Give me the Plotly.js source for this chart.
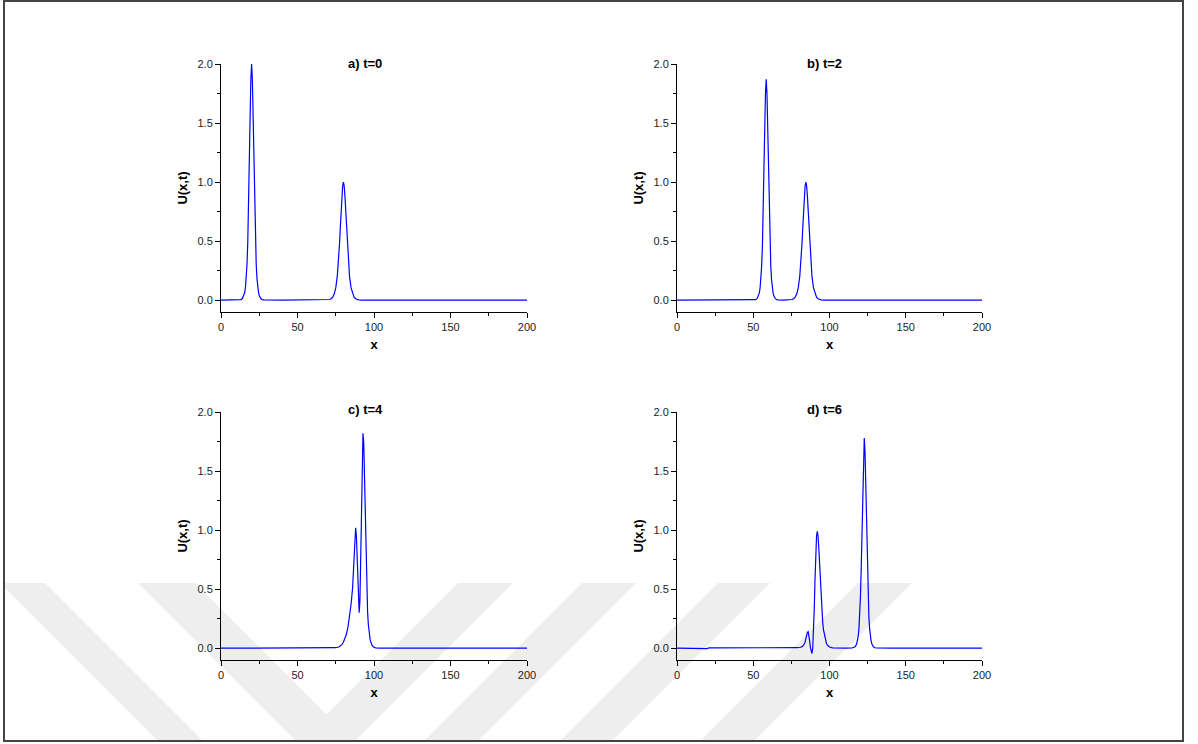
<!DOCTYPE html>
<html>
<head>
<meta charset="utf-8">
<script src="https://cdn.plot.ly/plotly-3.0.1.min.js"></script>
<style>html,body{margin:0;padding:0;background:#fff;}#chart{width:1198px;height:744px;}</style>
</head>
<body>
<div id="chart"></div>
<script>
// ---- data ----
const panelTitles = ["a) t=0", "b) t=2", "c) t=4", "d) t=6"];
const xTickVals = [0, 50, 100, 150, 200];
const yTickVals = [0, 0.5, 1.0, 1.5, 2.0];

const xA = [0, 10, 12, 13, 14, 15, 15.5, 16, 16.5, 17, 17.5, 18, 18.5, 19, 19.5, 20, 20.5, 21, 21.5, 22, 22.5, 23, 23.5, 24, 24.5, 25, 26, 27, 28, 40, 60, 68, 70, 71, 72, 73, 74, 75, 76, 76.5, 77, 77.5, 78, 78.5, 79, 79.5, 80, 80.5, 81, 81.5, 82, 82.5, 83, 83.5, 84, 85, 86, 87, 88, 89, 90, 92, 110, 150, 200];
const uA = [0, 0, 0.002, 0.005, 0.014, 0.040, 0.067, 0.112, 0.187, 0.307, 0.492, 0.765, 1.125, 1.528, 1.866, 2.0, 1.866, 1.528, 1.125, 0.765, 0.492, 0.307, 0.187, 0.112, 0.067, 0.040, 0.014, 0.005, 0.002, 0, 0, 0.0007, 0.003, 0.006, 0.0125, 0.026, 0.052, 0.104, 0.201, 0.276, 0.371, 0.487, 0.619, 0.757, 0.881, 0.968, 1.0, 0.968, 0.881, 0.757, 0.619, 0.487, 0.371, 0.276, 0.201, 0.104, 0.052, 0.026, 0.0125, 0.006, 0.003, 0.0007, 0, 0, 0];

const xB = [0, 18, 19, 19.5, 20, 21, 25, 30, 35, 48, 50.5, 51.5, 52.5, 53.5, 54, 54.5, 55, 55.5, 56, 56.5, 57, 57.5, 58, 58.5, 59, 59.5, 60, 60.5, 61, 61.5, 62, 62.5, 63, 63.5, 64.5, 65.5, 66.5, 70, 72.5, 74.5, 75.5, 76.5, 77.5, 78.5, 79.5, 80.5, 81, 81.5, 82, 82.5, 83, 83.5, 84, 84.5, 85, 85.5, 86, 86.5, 87, 87.5, 88, 88.5, 89.5, 90.5, 91.5, 92.5, 93.5, 94.5, 96.5, 110, 150, 200];
const uB = [0, 0, 0.002, 0.006, 0.005, 0.003, 0.003, 0.002, 0, 0, 0.0016, 0.0045, 0.013, 0.037, 0.062, 0.105, 0.175, 0.287, 0.460, 0.716, 1.052, 1.429, 1.745, 1.87, 1.745, 1.429, 1.052, 0.716, 0.460, 0.287, 0.175, 0.105, 0.062, 0.037, 0.013, 0.0045, 0.0016, 0, 0.0007, 0.003, 0.006, 0.0125, 0.026, 0.052, 0.104, 0.201, 0.276, 0.371, 0.487, 0.619, 0.757, 0.881, 0.968, 1.0, 0.968, 0.881, 0.757, 0.619, 0.487, 0.371, 0.276, 0.201, 0.104, 0.052, 0.026, 0.0125, 0.006, 0.003, 0.0007, 0, 0, 0];

const xC = [0, 18, 19.5, 20, 21, 25, 30, 35, 60, 72, 75, 77, 78, 79, 80, 81, 82, 83, 84, 85, 86, 86.5, 87, 87.5, 88, 88.5, 89, 89.5, 90, 90.3, 90.8, 91.3, 91.8, 92.3, 92.8, 93.3, 93.8, 94.3, 94.8, 95.3, 95.8, 96.3, 96.8, 97.5, 98.5, 99.5, 101, 104, 150, 200];
const uC = [0, 0, 0.003, 0.005, 0.004, 0.003, 0.002, 0, 0, 0.001, 0.004, 0.01, 0.018, 0.03, 0.05, 0.08, 0.12, 0.18, 0.26, 0.37, 0.51, 0.64, 0.80, 0.95, 1.02, 0.95, 0.72, 0.45, 0.32, 0.30, 0.40, 0.72, 1.20, 1.62, 1.82, 1.74, 1.45, 1.08, 0.74, 0.48, 0.31, 0.20, 0.13, 0.07, 0.03, 0.012, 0.003, 0, 0, 0];

const xD = [0, 17, 18.5, 19.5, 21, 25, 30, 35, 60, 76, 79, 81, 82, 83, 84, 84.5, 85, 85.5, 86, 86.5, 87, 87.5, 88, 88.5, 89, 89.5, 90, 90.5, 91, 91.5, 92, 92.5, 93, 93.5, 94, 94.5, 95, 95.5, 96, 97, 98, 99, 100, 102, 106, 111, 114.8, 115.8, 116.8, 117.8, 118.3, 118.8, 119.3, 119.8, 120.3, 120.8, 121.3, 121.8, 122.3, 122.8, 123.3, 123.8, 124.3, 124.8, 125.3, 125.8, 126.3, 126.8, 127.3, 127.8, 128.8, 129.8, 130.8, 140, 200];
const uD = [0, 0, -0.004, -0.003, 0.003, 0.003, 0.002, 0, 0, 0.001, 0.004, 0.008, 0.013, 0.025, 0.05, 0.08, 0.112, 0.135, 0.14, 0.112, 0.06, 0.005, -0.035, -0.045, 0.0, 0.13, 0.33, 0.58, 0.81, 0.95, 0.99, 0.95, 0.84, 0.70, 0.55, 0.42, 0.31, 0.23, 0.16, 0.08, 0.04, 0.02, 0.01, 0.003, 0.0005, 0, 0.0015, 0.004, 0.012, 0.035, 0.059, 0.100, 0.166, 0.273, 0.438, 0.681, 1.001, 1.360, 1.661, 1.78, 1.661, 1.360, 1.001, 0.681, 0.438, 0.273, 0.166, 0.100, 0.059, 0.035, 0.012, 0.004, 0.0015, 0, 0];

// ---- chart ----
const W = 1198, H = 744;
const FONT = "Liberation Sans, Arial, Helvetica, sans-serif";
const px = v => v / W;
const py = v => 1 - v / H;

const panels = [
  {x: xA, y: uA, xd: [221, 527], yd: [312, 64]},
  {x: xB, y: uB, xd: [677, 982], yd: [312, 64]},
  {x: xC, y: uC, xd: [221, 527], yd: [660, 412]},
  {x: xD, y: uD, xd: [677, 982], yd: [660, 412]}
];

const traces = [];
const layout = {
  width: W, height: H,
  margin: {l: 0, r: 0, t: 0, b: 0},
  paper_bgcolor: "#ffffff",
  plot_bgcolor: "rgba(0,0,0,0)",
  showlegend: false,
  font: {family: FONT, color: "#222", size: 11},
  annotations: [],
  shapes: []
};

panels.forEach((p, i) => {
  const n = i + 1;
  const xa = "x" + (n === 1 ? "" : n), ya = "y" + (n === 1 ? "" : n);
  traces.push({
    type: "scatter", mode: "lines", x: p.x, y: p.y,
    xaxis: xa, yaxis: ya,
    line: {color: "#0000ff", width: 1.2},
    hoverinfo: "x+y"
  });
  const axBase = {
    showgrid: false, zeroline: false, showline: true,
    linecolor: "#000", linewidth: 1,
    ticks: "outside", ticklen: 5, tickwidth: 1, tickcolor: "#000",
    tickfont: {family: FONT, size: 11, color: "#222"},
    automargin: false
  };
  layout["xaxis" + (n === 1 ? "" : n)] = Object.assign({}, axBase, {
    domain: [px(p.xd[0]), px(p.xd[1])],
    anchor: ya,
    range: [0, 200],
    tickvals: xTickVals,
    minor: {dtick: 25, tick0: 0, ticks: "outside", ticklen: 3, tickcolor: "#000", showgrid: false},
    title: {text: "<b>x</b>", font: {family: FONT, size: 13, color: "#000"}, standoff: 7}
  });
  layout["yaxis" + (n === 1 ? "" : n)] = Object.assign({}, axBase, {
    domain: [py(p.yd[0]), py(p.yd[1])],
    anchor: xa,
    range: [-0.1, 2.0],
    tickvals: yTickVals,
    tickformat: ".1f",
    minor: {dtick: 0.25, tick0: 0, ticks: "outside", ticklen: 3, tickcolor: "#000", showgrid: false},
    title: {text: "<b>U(x,t)</b>", font: {family: FONT, size: 13, color: "#000"}, standoff: 6}
  });
  const tx = (i % 2 === 0) ? 365 : 824;
  const ty = (i < 2) ? 63 : 410;
  layout.annotations.push({
    xref: "paper", yref: "paper", x: px(tx), y: py(ty),
    xanchor: "center", yanchor: "middle", showarrow: false,
    text: "<b>" + panelTitles[i] + "</b>",
    font: {family: FONT, size: 13, color: "#000"}
  });
});

// background watermark (light grey chevrons) and outer frame
const polys = [
  [[4,583],[45,583],[203,741],[158,741],[4,587]],
  [[138,583],[195,583],[326.5,714.5],[458,583],[513,583],[355,741],[296,741]],
  [[582,583],[636,583],[478,741],[424,741]],
  [[718,583],[770,583],[612,741],[560,741]],
  [[858,583],[912,583],[754,741],[700,741]]
];
polys.forEach(pl => {
  const d = pl.map((pt, k) => (k ? "L" : "M") + px(pt[0]).toFixed(5) + "," + py(pt[1]).toFixed(5)).join(" ") + " Z";
  layout.shapes.push({type: "path", xref: "paper", yref: "paper", path: d,
    fillcolor: "#eeeeee", line: {width: 0}, layer: "below"});
});
layout.shapes.push({type: "rect", xref: "paper", yref: "paper",
  x0: px(4), x1: px(1183), y0: py(741), y1: py(1),
  line: {color: "#444", width: 2}, fillcolor: "rgba(0,0,0,0)", layer: "above"});

Plotly.newPlot("chart", traces, layout, {displayModeBar: false, staticPlot: true});
</script>
</body>
</html>
